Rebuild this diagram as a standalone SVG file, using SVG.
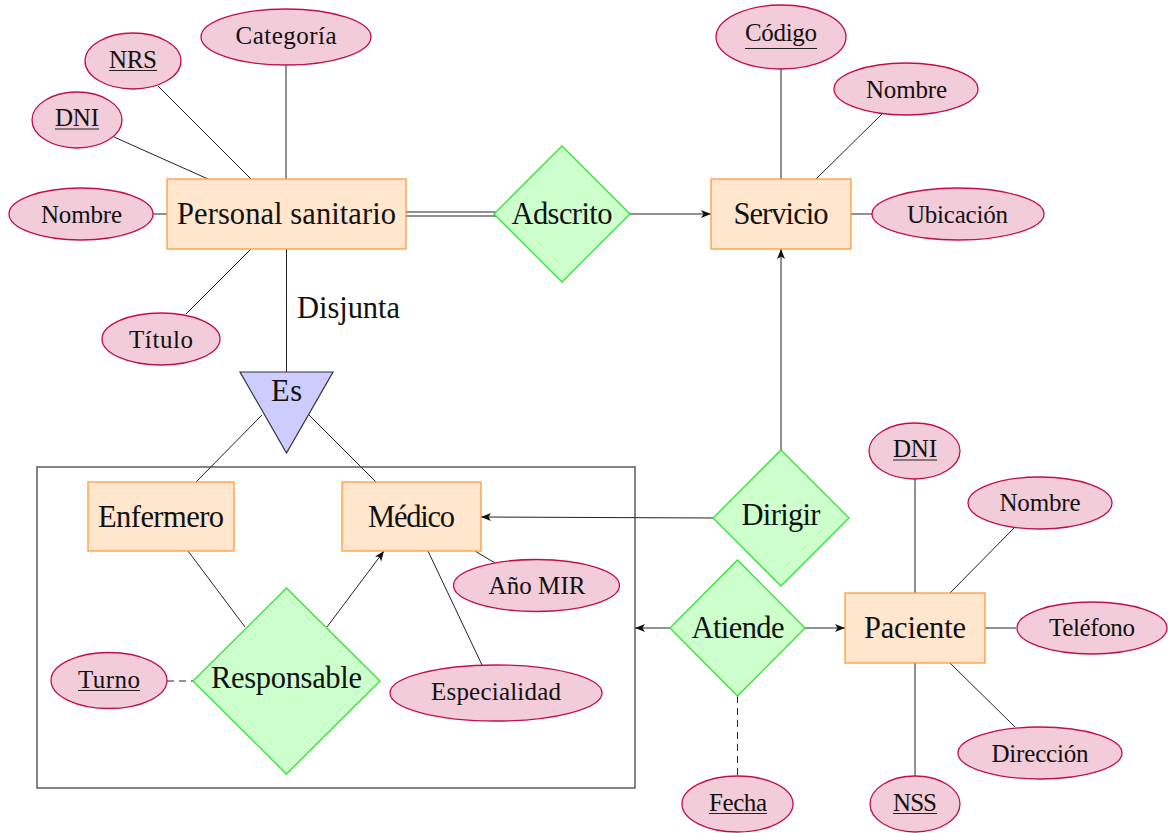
<svg xmlns="http://www.w3.org/2000/svg" width="1168" height="833" viewBox="0 0 1168 833">
<defs>
<marker id="arr" markerUnits="userSpaceOnUse" markerWidth="11" markerHeight="9" refX="10" refY="4.5" orient="auto">
<path d="M0,0.5 L10,4.5 L0,8.5 L2.5,4.5 z" fill="#111"/>
</marker>
<style>
.ent{fill:#FFE6CC;stroke:#FF9A3C;stroke-width:1.3}
.rel{fill:#CCFFCC;stroke:#2EE62E;stroke-width:1.3}
.attr{fill:#F2CCD9;stroke:#C0104A;stroke-width:1.3}
.isa{fill:#CCCCFF;stroke:#333;stroke-width:1.2}
.box{fill:none;stroke:#333;stroke-width:1.2}
text{font-family:"Liberation Serif","Times New Roman",serif;fill:#111;text-anchor:middle}
.lg{font-size:30.5px}
.sm{font-size:25px}
.ul{stroke:#222;stroke-width:1.2}
.c line{stroke:#222;stroke-width:1}
.c .arrow{marker-end:url(#arr)}
.c .dash{stroke-dasharray:7 5}
</style>
</defs>
<rect width="1168" height="833" fill="#fff"/>

<g class="c" id="connectors">
<line x1="286" y1="65" x2="286" y2="179"/>
<line x1="158" y1="86" x2="251" y2="179"/>
<line x1="114" y1="137" x2="208" y2="179"/>
<line x1="153" y1="214" x2="167" y2="214"/>
<line x1="251" y1="249" x2="186" y2="314"/>
<line x1="286.5" y1="249" x2="286.5" y2="372"/>
<line x1="406" y1="212" x2="496" y2="212"/>
<line x1="406" y1="216" x2="496" y2="216"/>
<line class="arrow" x1="630" y1="214" x2="711" y2="214"/>
<line x1="781" y1="69" x2="781" y2="179"/>
<line x1="882" y1="114" x2="816" y2="179"/>
<line x1="851" y1="214" x2="872" y2="214"/>
<line class="arrow" x1="781" y1="450" x2="781" y2="249"/>
<line x1="262" y1="415" x2="196" y2="482"/>
<line x1="309" y1="415" x2="376" y2="482"/>
<line class="arrow" x1="713" y1="518" x2="481" y2="517"/>
<line x1="475" y1="551" x2="495" y2="563"/>
<line x1="428" y1="551" x2="482" y2="665"/>
<line x1="188" y1="551" x2="245" y2="627"/>
<line class="arrow" x1="327" y1="627" x2="384" y2="551"/>
<line class="dash" x1="167" y1="681" x2="193" y2="681"/>
<line class="arrow" x1="670" y1="628" x2="635" y2="628"/>
<line class="arrow" x1="805" y1="628" x2="845" y2="628"/>
<line x1="915" y1="479" x2="915" y2="593"/>
<line x1="1015" y1="527" x2="950" y2="593"/>
<line x1="985" y1="628" x2="1016" y2="628"/>
<line x1="950" y1="663" x2="1015" y2="727"/>
<line x1="915" y1="663" x2="915" y2="776"/>
<line class="dash" x1="737.5" y1="696" x2="737.5" y2="777"/>
</g>

<g id="especializacion-box"><rect class="box" x="37" y="467" width="598" height="321"/></g>

<g id="personal-sanitario"><rect class="ent" x="167" y="179" width="239" height="70"/><text class="lg" x="286.5" y="223.5" textLength="219">Personal sanitario</text></g>
<g id="ps-categoria"><ellipse class="attr" cx="286" cy="37" rx="85" ry="28"/><text class="sm" x="286" y="43.5" textLength="101">Categoría</text></g>
<g id="ps-nrs"><ellipse class="attr" cx="133" cy="61" rx="48" ry="28"/><text class="sm" x="133" y="67.5" textLength="48">NRS</text><line class="ul" x1="109" y1="70.5" x2="157" y2="70.5"/></g>
<g id="ps-dni"><ellipse class="attr" cx="77" cy="120" rx="45" ry="28"/><text class="sm" x="77" y="126" textLength="44">DNI</text><line class="ul" x1="55" y1="129" x2="99" y2="129"/></g>
<g id="ps-nombre"><ellipse class="attr" cx="81" cy="214" rx="72" ry="26"/><text class="sm" x="81.5" y="222.5" textLength="81">Nombre</text></g>
<g id="ps-titulo"><ellipse class="attr" cx="161" cy="339" rx="59" ry="26"/><text class="sm" x="161" y="348" textLength="64">Título</text></g>

<g id="adscrito"><polygon class="rel" points="562,146 630,214 562,282 494,214"/><text class="lg" x="562" y="224" textLength="101">Adscrito</text></g>

<g id="servicio"><rect class="ent" x="711" y="179" width="140" height="70"/><text class="lg" x="781" y="224" textLength="95">Servicio</text></g>
<g id="s-codigo"><ellipse class="attr" cx="781" cy="37" rx="65" ry="32"/><text class="sm" x="781" y="41" textLength="72">Código</text><line class="ul" x1="745" y1="48.5" x2="817" y2="48.5"/></g>
<g id="s-nombre"><ellipse class="attr" cx="906" cy="89" rx="72" ry="26"/><text class="sm" x="906.5" y="97.5" textLength="81">Nombre</text></g>
<g id="s-ubicacion"><ellipse class="attr" cx="958" cy="214" rx="86" ry="26"/><text class="sm" x="957.5" y="222.5" textLength="101">Ubicación</text></g>

<g id="es"><polygon class="isa" points="240,372 333,372 286.5,453"/><text class="lg" x="286.5" y="401" textLength="31">Es</text></g>
<g id="disjunta-label"><text class="lg" x="297" y="318" textLength="103" style="text-anchor:start">Disjunta</text></g>

<g id="enfermero"><rect class="ent" x="88" y="482" width="146" height="69"/><text class="lg" x="161" y="527" textLength="126">Enfermero</text></g>
<g id="medico"><rect class="ent" x="342" y="482" width="139" height="69"/><text class="lg" x="411.5" y="527" textLength="87">Médico</text></g>
<g id="m-anomir"><ellipse class="attr" cx="536.5" cy="585.5" rx="83" ry="26"/><text class="sm" x="537" y="594" textLength="97">Año MIR</text></g>
<g id="m-especialidad"><ellipse class="attr" cx="496" cy="693" rx="106" ry="28"/><text class="sm" x="496" y="700" textLength="130">Especialidad</text></g>
<g id="responsable"><polygon class="rel" points="286.5,588 380,681 286.5,774 193,681"/><text class="lg" x="286.5" y="688" textLength="151">Responsable</text></g>
<g id="r-turno"><ellipse class="attr" cx="109" cy="680.5" rx="58" ry="28"/><text class="sm" x="109" y="687.5" textLength="62">Turno</text><line class="ul" x1="78" y1="690.5" x2="140" y2="690.5"/></g>

<g id="dirigir"><polygon class="rel" points="781,450 849,518 781,586 713,518"/><text class="lg" x="781" y="525" textLength="79">Dirigir</text></g>
<g id="atiende"><polygon class="rel" points="737.5,560 805,628 737.5,696 670,628"/><text class="lg" x="738" y="638" textLength="93">Atiende</text></g>
<g id="a-fecha"><ellipse class="attr" cx="737.5" cy="804" rx="55.5" ry="28"/><text class="sm" x="738" y="810.5" textLength="58">Fecha</text><line class="ul" x1="709" y1="813.5" x2="767" y2="813.5"/></g>

<g id="paciente"><rect class="ent" x="845" y="593" width="140" height="70"/><text class="lg" x="915" y="638" textLength="102">Paciente</text></g>
<g id="p-dni"><ellipse class="attr" cx="914.5" cy="451" rx="45.5" ry="28"/><text class="sm" x="915" y="457" textLength="44">DNI</text><line class="ul" x1="893" y1="460" x2="937" y2="460"/></g>
<g id="p-nombre"><ellipse class="attr" cx="1040" cy="503" rx="72" ry="26"/><text class="sm" x="1040" y="511" textLength="81">Nombre</text></g>
<g id="p-telefono"><ellipse class="attr" cx="1092" cy="628" rx="75" ry="26"/><text class="sm" x="1092" y="636" textLength="86">Teléfono</text></g>
<g id="p-direccion"><ellipse class="attr" cx="1040" cy="753" rx="82" ry="26"/><text class="sm" x="1040" y="761.5" textLength="97">Dirección</text></g>
<g id="p-nss"><ellipse class="attr" cx="915" cy="804" rx="45" ry="28"/><text class="sm" x="915" y="810.5" textLength="44">NSS</text><line class="ul" x1="893" y1="813.5" x2="937" y2="813.5"/></g>
</svg>
